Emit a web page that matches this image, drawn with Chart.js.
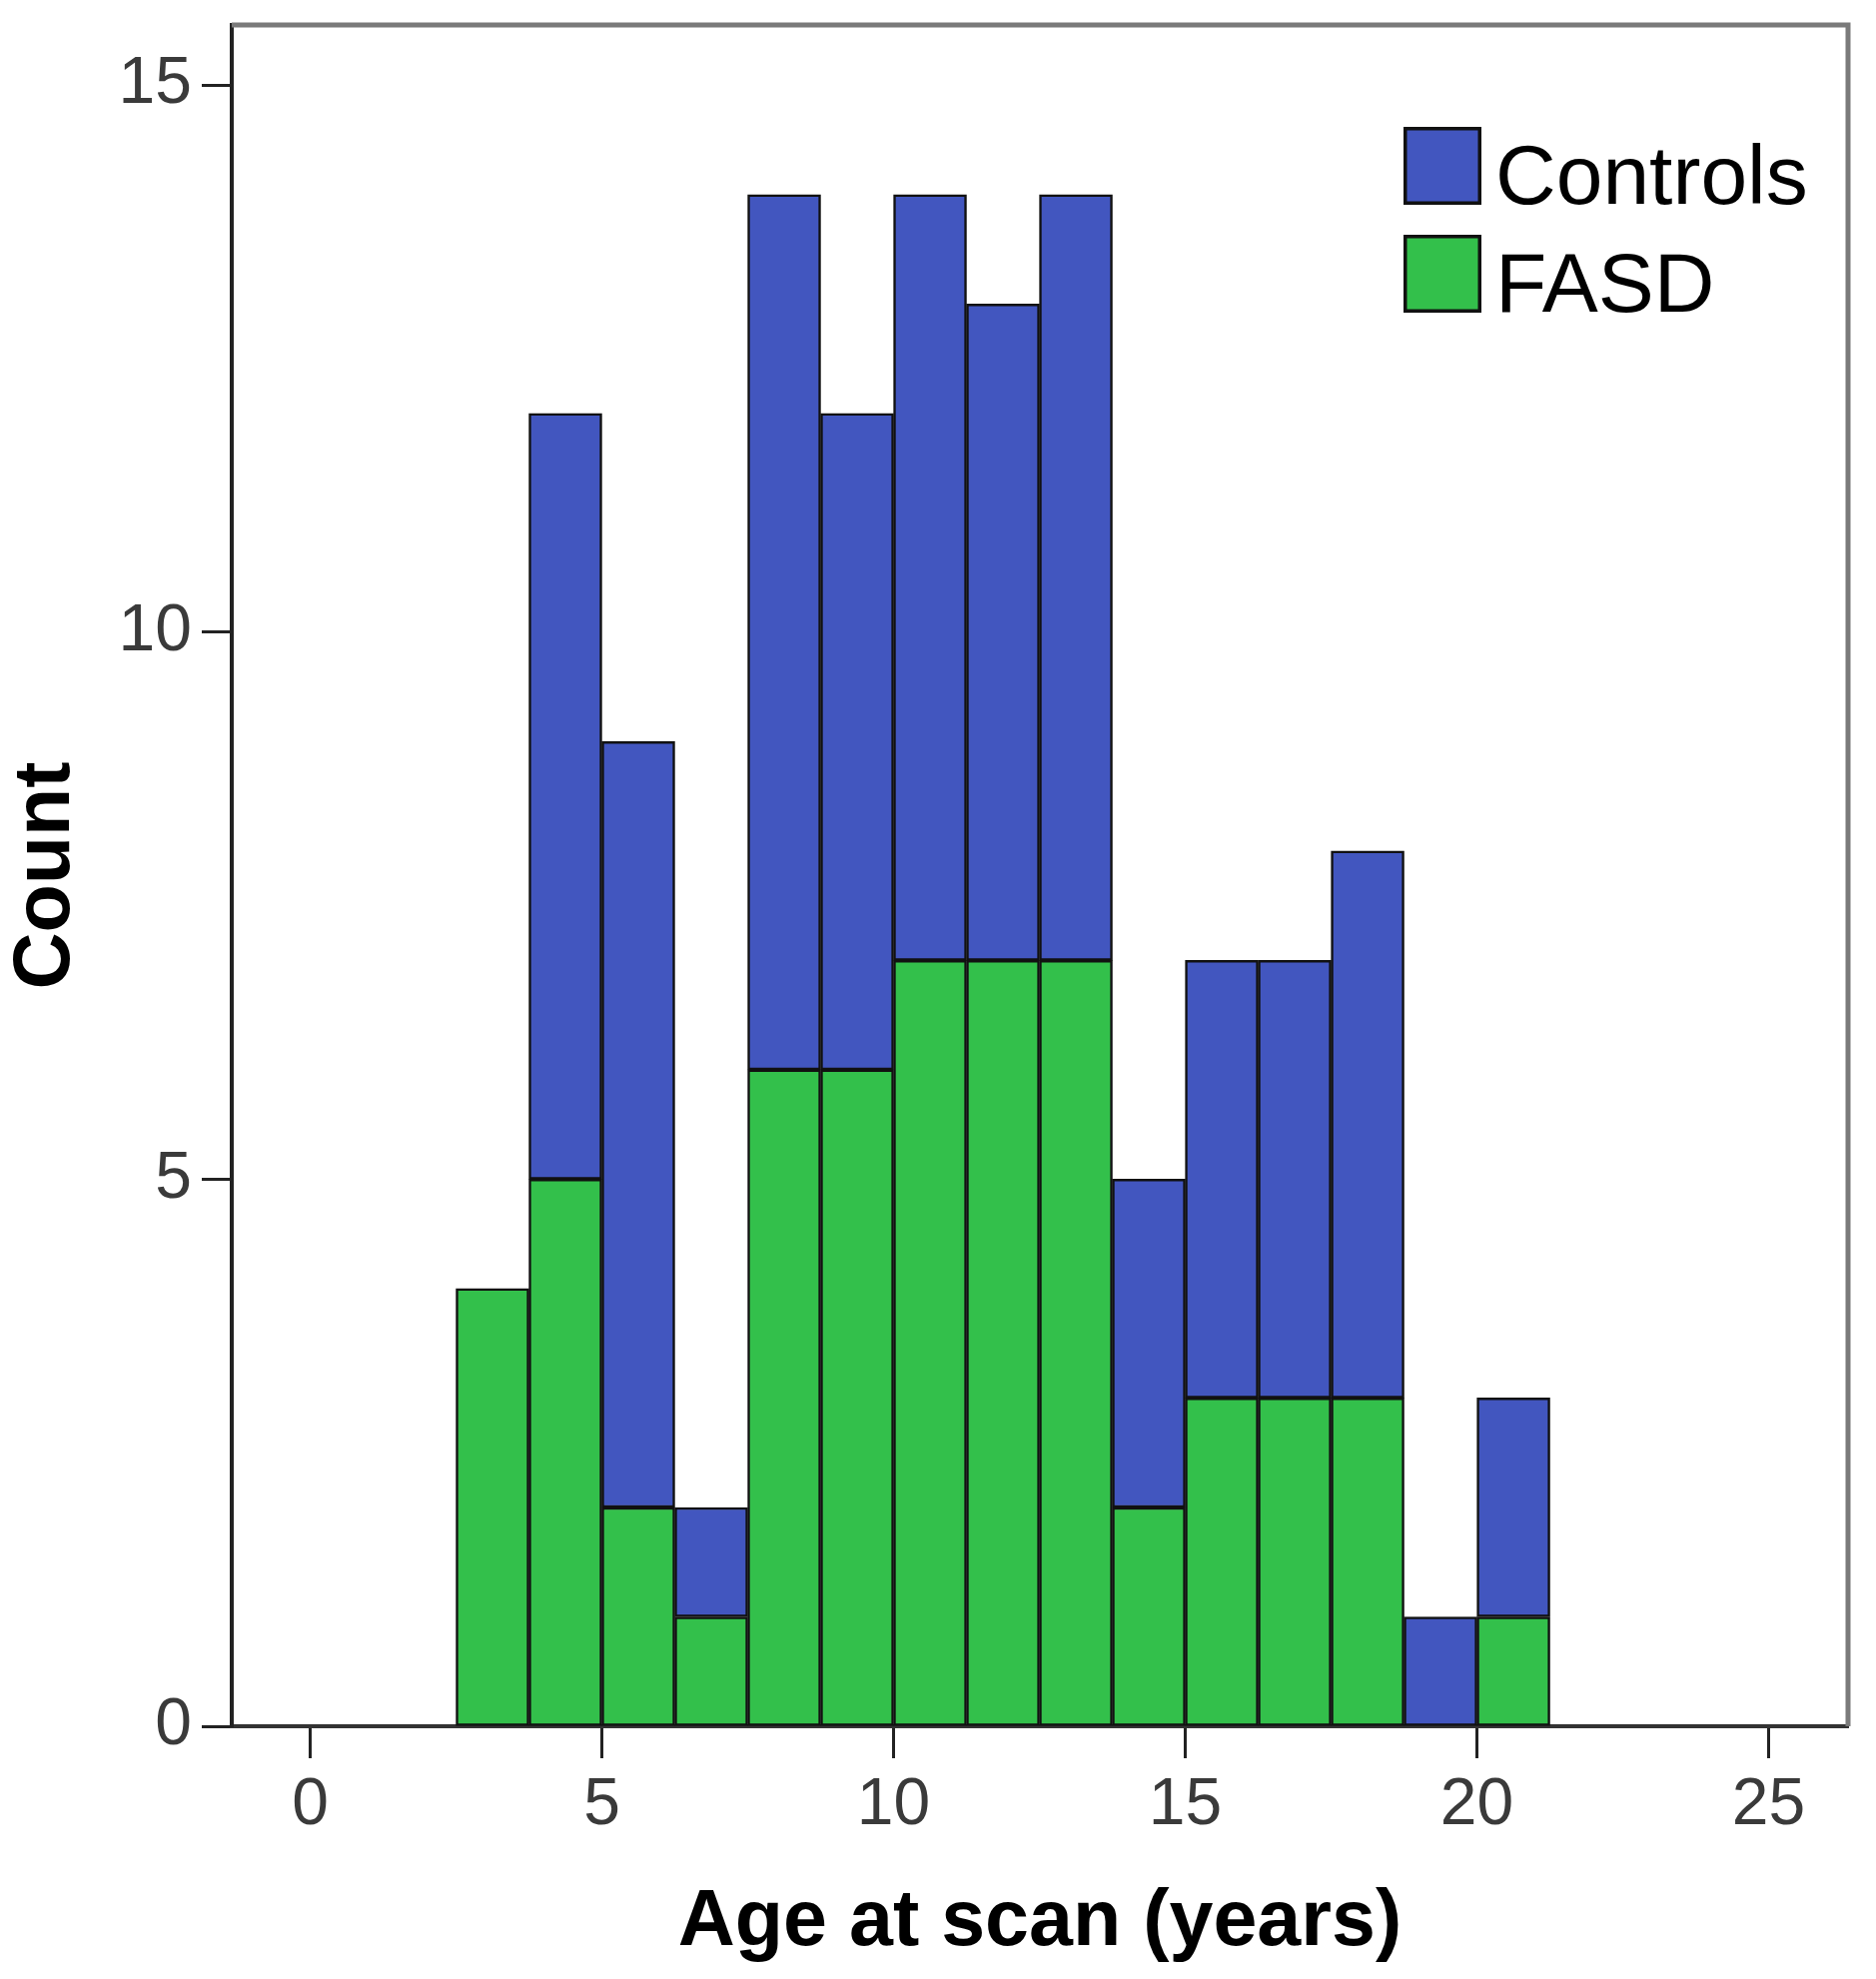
<!DOCTYPE html>
<html>
<head>
<meta charset="utf-8">
<script src="https://cdn.jsdelivr.net/npm/chart.js@4.4.1/dist/chart.umd.min.js"></script>
<style>
  html, body { margin: 0; padding: 0; background: #ffffff; }
  #wrap { width: 1878px; height: 1981px; position: relative; }
</style>
</head>
<body>
<div id="wrap"><canvas id="c" width="1878" height="1981"></canvas></div>
<script>
// ---- data ----
const binCenters = [3.125, 4.375, 5.625, 6.875, 8.125, 9.375, 10.625, 11.875, 13.125, 14.375, 15.625, 16.875, 18.125, 19.375, 20.625];
const fasdCounts = [4, 5, 2, 1, 6, 6, 7, 7, 7, 2, 3, 3, 3, 0, 1];
const controlCounts = [0, 7, 7, 1, 8, 6, 7, 6, 7, 3, 4, 4, 5, 1, 2];
const seriesLabels = ['FASD', 'Controls'];
const xTickValues = [0, 5, 10, 15, 20, 25];
const yTickValues = [0, 5, 10, 15];
const xTitle = 'Age at scan (years)';
const yTitle = 'Count';

const BLUE = '#4256bf';
const GREEN = '#33c04b';

function toPoints(vals) {
  return binCenters.map((x, i) => ({ x: x, y: vals[i] }));
}

const framePlugin = {
  id: 'frameAndLegend',
  afterDraw(chart) {
    const ctx = chart.ctx;
    const a = chart.chartArea;
    ctx.save();
    // top and right frame lines
    ctx.strokeStyle = '#7a7a7a';
    ctx.lineWidth = 5;
    ctx.beginPath();
    ctx.moveTo(a.left, a.top);
    ctx.lineTo(a.right, a.top);
    ctx.lineTo(a.right, a.bottom);
    ctx.stroke();

    // legend (Controls first, then FASD)
    const order = [1, 0];
    const box = 78;
    const x0 = a.right - 445;
    let y0 = a.top + 102;
    ctx.font = '84px "Liberation Sans", Arial, sans-serif';
    ctx.textBaseline = 'alphabetic';
    ctx.textAlign = 'left';
    order.forEach((di) => {
      const ds = chart.data.datasets[di];
      ctx.fillStyle = ds.backgroundColor;
      ctx.fillRect(x0, y0, box, box);
      ctx.strokeStyle = '#111';
      ctx.lineWidth = 3.5;
      ctx.strokeRect(x0 + 1.75, y0 + 1.75, box - 3.5, box - 3.5);
      ctx.fillStyle = '#000';
      ctx.fillText(ds.label, x0 + box + 14, y0 + box - 1);
      y0 += 108;
    });
    ctx.restore();
  }
};

const tickFont = { family: '"Liberation Sans", Arial, sans-serif', size: 66 };

const chart = new Chart(document.getElementById('c'), {
  type: 'bar',
  data: {
    datasets: [
      {
        label: seriesLabels[0],
        data: toPoints(fasdCounts),
        backgroundColor: GREEN,
        borderColor: '#111',
        borderWidth: 2.5,
        borderSkipped: false,
        categoryPercentage: 1.0,
        barPercentage: 1.0
      },
      {
        label: seriesLabels[1],
        data: toPoints(controlCounts),
        backgroundColor: BLUE,
        borderColor: '#111',
        borderWidth: 2.5,
        borderSkipped: false,
        categoryPercentage: 1.0,
        barPercentage: 1.0
      }
    ]
  },
  options: {
    responsive: false,
    animation: false,
    devicePixelRatio: 1,
    layout: { padding: { top: 25, right: 28, left: 0, bottom: 0 } },
    plugins: {
      legend: { display: false },
      tooltip: { enabled: false },
      title: { display: false }
    },
    scales: {
      x: {
        type: 'linear',
        stacked: true,
        offset: false,
        min: -1.344,
        max: 26.36,
        afterBuildTicks(scale) {
          scale.ticks = xTickValues.map(v => ({ value: v }));
        },
        ticks: {
          stepSize: 5,
          includeBounds: false,
          autoSkip: false,
          maxRotation: 0,
          padding: 8,
          color: '#3a3a3a',
          font: tickFont
        },
        grid: {
          offset: false,
          drawOnChartArea: false,
          drawTicks: true,
          tickLength: 32,
          tickWidth: 3,
          tickColor: '#222'
        },
        border: { display: true, color: '#333', width: 4 },
        title: {
          display: true,
          text: xTitle,
          color: '#000',
          font: { family: '"Liberation Sans", Arial, sans-serif', size: 79, weight: 'bold', lineHeight: 1.2 },
          padding: { top: 0, bottom: 8 }
        },
        afterFit(scale) {
          scale.height = 253;
          scale.paddingLeft = 0;
          scale.paddingRight = 0;
        }
      },
      y: {
        type: 'linear',
        stacked: true,
        min: 0,
        max: 15.55,
        afterBuildTicks(scale) {
          scale.ticks = yTickValues.map(v => ({ value: v }));
        },
        ticks: {
          stepSize: 5,
          includeBounds: false,
          padding: 10,
          color: '#3a3a3a',
          font: tickFont
        },
        grid: {
          drawOnChartArea: false,
          drawTicks: true,
          tickLength: 30,
          tickWidth: 3,
          tickColor: '#222'
        },
        border: { display: true, color: '#222', width: 4 },
        title: {
          display: true,
          text: yTitle,
          color: '#000',
          font: { family: '"Liberation Sans", Arial, sans-serif', size: 79, weight: 'bold', lineHeight: 1.0 },
          padding: { top: 8, bottom: 0 }
        },
        afterFit(scale) {
          scale.width = 232;
          scale.paddingTop = 0;
          scale.paddingBottom = 0;
        }
      }
    }
  },
  plugins: [framePlugin]
});
</script>
</body>
</html>
